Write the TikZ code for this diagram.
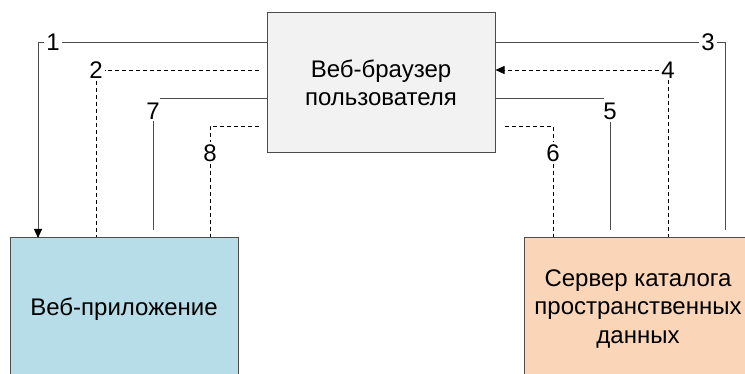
\documentclass[tikz,border=0pt]{standalone}
\usepackage{fontspec}
\setmainfont{Liberation Sans}
\usetikzlibrary{arrows.meta}
\definecolor{browserfill}{HTML}{F2F2F2}
\definecolor{appfill}{HTML}{B7DDE8}
\definecolor{serverfill}{HTML}{FAD5B7}
\begin{document}
\begin{tikzpicture}[x=1pt, y=-1pt,
    component/.style ={rectangle, draw=black!70, line width=1pt, align=center,
      minimum width=228pt, font=\fontsize{24}{28.5}\selectfont},
    number/.style ={inner sep=2pt, font=\fontsize{24}{26}\selectfont},
    request/.style ={line width=0.9pt, black!70},
    reply/.style ={line width=0.8pt, dash pattern=on 4pt off 3pt},
    tip/.style ={-{Triangle[length=9pt, width=8pt, color=black]}}]
   \useasboundingbox (0,0) rectangle (745,374);
   \node[component, fill=browserfill, minimum height=140pt] (B) at (381,83)  {Веб-браузер\\пользователя};
   \node[component, fill=appfill, minimum height=142pt] (W) at (124,309)  {Веб-приложение};
   \node[component, fill=serverfill, minimum height=142pt] (S) at (638,309)  {Сервер каталога\\пространственных\\данных};

   \node[number] (L1) at (53,42)  {1};
   \node[number] (L2) at (96,70)  {2};
   \node[number] (L3) at (708,42)  {3};
   \node[number] (L4) at (668,70)  {4};
   \node[number] (L5) at (610,111)  {5};
   \node[number] (L6) at (553,153)  {6};
   \node[number] (L7) at (153,111)  {7};
   \node[number] (L8) at (210,153)  {8};

   \coordinate (A1) at (38,238);
   \coordinate (E2) at (259,70);
   \coordinate (E3) at (725,230);
   \coordinate (E5) at (604,98);
   \coordinate (F5) at (610,230);
   \coordinate (E6) at (505,126);
   \coordinate (E7) at (160,98);
   \coordinate (F7) at (153,230);
   \coordinate (E8) at (259,126);

   \draw[request] (B.west |- L1) to  (L1);
   \draw[request, tip] (L1) -| (A1);
   \draw[reply] (E2) to  (L2);
   \draw[reply] (L2) to  (L2 |- W.north);
   \draw[request] (B.east |- L3) to  (L3);
   \draw[request] (L3) -| (E3);
   \draw[reply, tip] (L4) to  (B.east |- L4);
   \draw[reply] (L4) to  (L4 |- S.north);
   \draw[request] (B.east |- E5) to  (E5);
   \draw[request] (L5) to  (F5);
   \draw[reply] (E6) -| (L6);
   \draw[reply] (L6) to  (L6 |- S.north);
   \draw[request] (B.west |- E7) to  (E7);
   \draw[request] (L7) to  (F7);
   \draw[reply] (E8) -| (L8);
   \draw[reply] (L8) to  (L8 |- W.north);
 \end{tikzpicture}
\end{document}
